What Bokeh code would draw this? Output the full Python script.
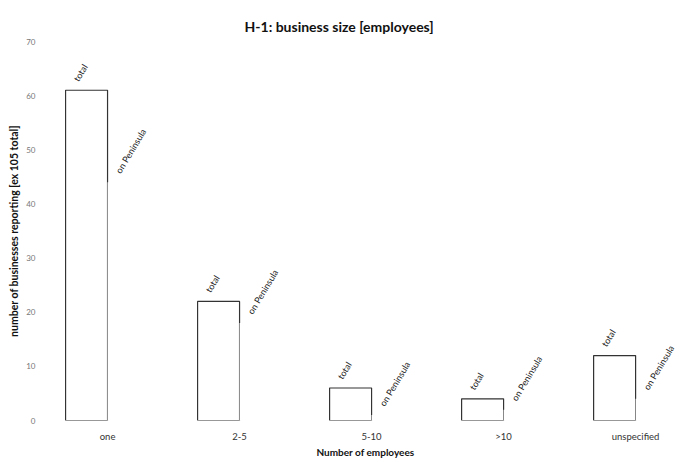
from bokeh.plotting import figure
from bokeh.models import ColumnDataSource, FixedTicker, Range1d, LabelSet
from bokeh.transform import dodge
from bokeh.core.properties import value
from bokeh.embed import file_html
from bokeh.resources import INLINE
import math

categories = ["one", "2-5", "5-10", ">10", "unspecified"]
total = [61, 22, 6, 4, 12]
peninsula = [44, 18, 1, 2, 4]
y_ticks = [0, 10, 20, 30, 40, 50, 60, 70]

xs = list(range(len(categories)))
bw = 0.318
src = ColumnDataSource(dict(
    x=xs, total=total, peninsula=peninsula,
    tlab=["total"] * len(xs), plab=["on Peninsula"] * len(xs),
))

p = figure(frame_width=626, frame_height=379, output_backend="svg", toolbar_location=None,
           x_range=Range1d(-0.417, 4.325), y_range=Range1d(0, 70),
           min_border_left=52, min_border_right=2, min_border_top=41, min_border_bottom=20,
           title="H-1: business size [employees]")
p.outline_line_color = None
p.grid.grid_line_color = None

p.title.align = "left"
p.title.offset = 192
p.title.text_font = "Lato"
p.title.text_font_size = "14px"
p.title.text_font_style = "bold"
p.title.text_color = "#111111"
p.title.standoff = 14

p.vbar(x=dodge("x", -bw / 2, range=p.x_range), top="total", width=bw, bottom=0, source=src,
       fill_color="white", line_color="#333333", line_width=1.2)
p.vbar(x=dodge("x", bw / 2, range=p.x_range), top="peninsula", width=bw, bottom=0, source=src,
       fill_color="white", line_color=None)

ang = math.radians(59)
common = dict(angle=ang, text_font=value("Lato"), text_font_size="9px", text_color="#222222",
              text_align="left", text_baseline="bottom", x_offset=-6, y_offset=7, source=src)
p.add_layout(LabelSet(x=dodge("x", -bw / 2, range=p.x_range), y="total", text="tlab", **common))
p.add_layout(LabelSet(x=dodge("x", bw / 2, range=p.x_range), y="peninsula", text="plab", **common))

xa = p.xaxis[0]
xa.ticker = FixedTicker(ticks=xs)
xa.major_label_overrides = {i: c for i, c in zip(xs, categories)}
xa.axis_label = "Number of employees"
xa.axis_line_color = None
xa.major_tick_line_color = None
xa.minor_tick_line_color = None
xa.major_label_standoff = 4
xa.axis_label_standoff = 1
xa.major_label_text_font = "Lato"
xa.major_label_text_font_size = "9.5px"
xa.major_label_text_color = "#333333"
xa.axis_label_text_font = "Lato"
xa.axis_label_text_font_size = "10px"
xa.axis_label_text_font_style = "bold"
xa.axis_label_text_color = "#111111"

ya = p.yaxis[0]
ya.ticker = FixedTicker(ticks=y_ticks)
ya.axis_label = "number of businesses reporting [ex 105 total]"
ya.axis_line_color = None
ya.major_tick_line_color = None
ya.minor_tick_line_color = None
ya.major_label_standoff = 11
ya.axis_label_standoff = 3
ya.major_label_text_font = "Lato"
ya.major_label_text_font_size = "8px"
ya.major_label_text_color = "#777777"
ya.axis_label_text_font = "Lato"
ya.axis_label_text_font_size = "10.5px"
ya.axis_label_text_font_style = "bold"
ya.axis_label_text_color = "#111111"

open("out.html", "w").write(file_html(p, INLINE))
